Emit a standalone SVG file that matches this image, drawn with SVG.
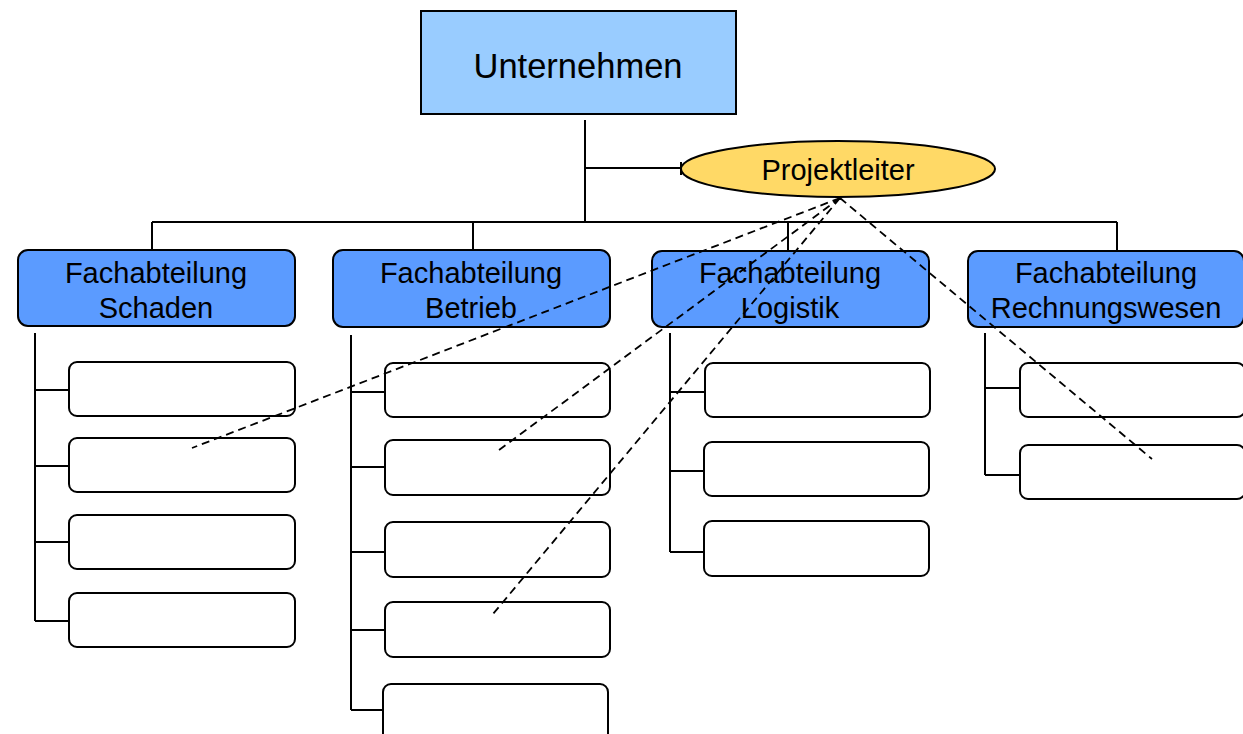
<svg xmlns="http://www.w3.org/2000/svg" width="1243" height="734" viewBox="0 0 1243 734">
<style>
.ln{stroke:#000;stroke-width:2;fill:none}
.dash{stroke:#000;stroke-width:1.8;fill:none;stroke-dasharray:8,5}
.dept{fill:#5B9BFF;stroke:#000;stroke-width:2}
.sub{fill:#fff;stroke:#000;stroke-width:2}
text{font-family:"Liberation Sans",Arial,sans-serif;fill:#000;text-anchor:middle}
.t24{font-size:29px}
</style>
<rect width="1243" height="734" fill="#fff"/>
<g id="connectors">
<path class="ln" d="M585,120 V222 M585,168 H681 M681,162 V175 M152,222 H1117 M152,222 V250 M473,222 V250 M788,222 V251 M1117,222 V251"/>
<path class="ln" d="M35,333 V621 M35,390 H69 M35,466 H69 M35,542 H69 M35,621 H69"/>
<path class="ln" d="M351,335 V710 M351,392 H385 M351,467 H385 M351,552 H385 M351,630 H385 M351,710 H384"/>
<path class="ln" d="M670,333 V552 M670,392 H705 M670,471 H705 M670,552 H705"/>
<path class="ln" d="M985,333 V475 M985,388 H1020 M985,475 H1020"/>
</g>
<g id="unternehmen"><rect x="421" y="11" width="315" height="103" fill="#99CCFF" stroke="#000" stroke-width="2"/><text x="578" y="78" font-size="34.5px">Unternehmen</text></g>
<g id="projektleiter"><ellipse cx="838" cy="169" rx="157" ry="28" fill="#FFD966" stroke="#000" stroke-width="2"/><text class="t24" x="838" y="180">Projektleiter</text></g>
<g id="schaden"><rect class="dept" x="18" y="250" width="277" height="76" rx="10"/><text class="t24" x="156" y="283">Fachabteilung</text><text class="t24" x="156" y="318">Schaden</text></g>
<g id="betrieb"><rect class="dept" x="333" y="250" width="277" height="77" rx="10"/><text class="t24" x="471" y="283">Fachabteilung</text><text class="t24" x="471" y="318">Betrieb</text></g>
<g id="logistik"><rect class="dept" x="652" y="251" width="277" height="76" rx="10"/><text class="t24" x="790" y="283">Fachabteilung</text><text class="t24" x="790" y="318">Logistik</text></g>
<g id="rechnungswesen"><rect class="dept" x="968" y="251" width="276" height="76" rx="10"/><text class="t24" x="1106" y="283">Fachabteilung</text><text class="t24" x="1106" y="318">Rechnungswesen</text></g>
<g id="schaden-subs"><rect class="sub" x="69" y="362" width="226" height="54" rx="8"/><rect class="sub" x="69" y="438" width="226" height="54" rx="8"/><rect class="sub" x="69" y="515" width="226" height="54" rx="8"/><rect class="sub" x="69" y="593" width="226" height="54" rx="8"/></g>
<g id="betrieb-subs"><rect class="sub" x="385" y="363" width="225" height="54" rx="8"/><rect class="sub" x="385" y="440" width="225" height="55" rx="8"/><rect class="sub" x="385" y="522" width="225" height="55" rx="8"/><rect class="sub" x="385" y="602" width="225" height="55" rx="8"/><rect class="sub" x="383" y="684" width="225" height="60" rx="8"/></g>
<g id="logistik-subs"><rect class="sub" x="705" y="363" width="225" height="54" rx="8"/><rect class="sub" x="704" y="442" width="225" height="54" rx="8"/><rect class="sub" x="704" y="521" width="225" height="55" rx="8"/></g>
<g id="rechnungswesen-subs"><rect class="sub" x="1020" y="363" width="225" height="54" rx="8"/><rect class="sub" x="1020" y="445" width="225" height="54" rx="8"/></g>
<g id="dashed-connectors">
<path class="dash" d="M840,198 L192,448 M840,198 L495,453 M840,198 L493,614 M840,198 L1152,459"/>
</g>
</svg>
